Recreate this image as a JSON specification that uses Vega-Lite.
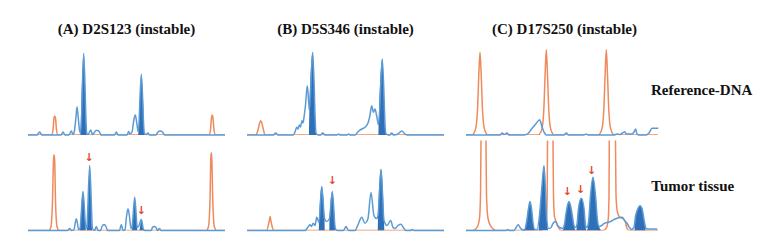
{
"$schema": "https://vega.github.io/schema/vega-lite/v6.json",
"background": "white",
"padding": {"left": 25, "top": 22, "right": 0, "bottom": 0},
"data": {"values": [
{"c":"A","r":"R","s":"b","x":0,"y":0},{"c":"A","r":"R","s":"b","x":9,"y":0},{"c":"A","r":"R","s":"b","x":11.7,"y":3},{"c":"A","r":"R","s":"b","x":14,"y":0},{"c":"A","r":"R","s":"b","x":33,"y":0},{"c":"A","r":"R","s":"b","x":35,"y":3},{"c":"A","r":"R","s":"b","x":37,"y":0},{"c":"A","r":"R","s":"b","x":41,"y":0},{"c":"A","r":"R","s":"b","x":43.3,"y":4},{"c":"A","r":"R","s":"b","x":45,"y":0.5},{"c":"A","r":"R","s":"b","x":46,"y":2},{"c":"A","r":"R","s":"b","x":48,"y":18},{"c":"A","r":"R","s":"b","x":49,"y":28},{"c":"A","r":"R","s":"b","x":50,"y":20},{"c":"A","r":"R","s":"b","x":51.5,"y":5},{"c":"A","r":"R","s":"b","x":52.7,"y":2},{"c":"A","r":"R","s":"b","x":55.7,"y":81.7},{"c":"A","r":"R","s":"b","x":58.7,"y":2},{"c":"A","r":"R","s":"b","x":60,"y":0.5},{"c":"A","r":"R","s":"b","x":62.7,"y":5},{"c":"A","r":"R","s":"b","x":64.5,"y":0.5},{"c":"A","r":"R","s":"b","x":66,"y":2},{"c":"A","r":"R","s":"b","x":68,"y":4.5},{"c":"A","r":"R","s":"b","x":70,"y":4.5},{"c":"A","r":"R","s":"b","x":72,"y":2},{"c":"A","r":"R","s":"b","x":73,"y":0},{"c":"A","r":"R","s":"b","x":86.5,"y":0},{"c":"A","r":"R","s":"b","x":88.3,"y":3},{"c":"A","r":"R","s":"b","x":90,"y":0},{"c":"A","r":"R","s":"b","x":99,"y":0},{"c":"A","r":"R","s":"b","x":100.7,"y":3.5},{"c":"A","r":"R","s":"b","x":102,"y":1},{"c":"A","r":"R","s":"b","x":104,"y":3},{"c":"A","r":"R","s":"b","x":106,"y":16},{"c":"A","r":"R","s":"b","x":107.3,"y":20},{"c":"A","r":"R","s":"b","x":108.5,"y":14},{"c":"A","r":"R","s":"b","x":110.3,"y":3},{"c":"A","r":"R","s":"b","x":113.3,"y":60.7},{"c":"A","r":"R","s":"b","x":116.3,"y":2},{"c":"A","r":"R","s":"b","x":118.5,"y":0.5},{"c":"A","r":"R","s":"b","x":120,"y":2},{"c":"A","r":"R","s":"b","x":121.5,"y":0},{"c":"A","r":"R","s":"b","x":128,"y":0},{"c":"A","r":"R","s":"b","x":130,"y":3},{"c":"A","r":"R","s":"b","x":132.3,"y":4},{"c":"A","r":"R","s":"b","x":134.5,"y":3},{"c":"A","r":"R","s":"b","x":136.5,"y":0},{"c":"A","r":"R","s":"b","x":197,"y":0},
{"c":"A","r":"R","s":"f1","x":52.5,"y":0},{"c":"A","r":"R","s":"f1","x":55.7,"y":81.7},{"c":"A","r":"R","s":"f1","x":58.9,"y":0},
{"c":"A","r":"R","s":"f2","x":110.1,"y":0},{"c":"A","r":"R","s":"f2","x":113.3,"y":60.7},{"c":"A","r":"R","s":"f2","x":116.5,"y":0},
{"c":"A","r":"R","s":"o","x":0,"y":0},{"c":"A","r":"R","s":"o","x":23.5,"y":0},{"c":"A","r":"R","s":"o","x":25,"y":5},{"c":"A","r":"R","s":"o","x":26,"y":17},{"c":"A","r":"R","s":"o","x":26.7,"y":19},{"c":"A","r":"R","s":"o","x":27.5,"y":17},{"c":"A","r":"R","s":"o","x":28.5,"y":5},{"c":"A","r":"R","s":"o","x":30,"y":0},{"c":"A","r":"R","s":"o","x":181,"y":0},{"c":"A","r":"R","s":"o","x":182.5,"y":5},{"c":"A","r":"R","s":"o","x":183.5,"y":17},{"c":"A","r":"R","s":"o","x":184.2,"y":20},{"c":"A","r":"R","s":"o","x":185,"y":17},{"c":"A","r":"R","s":"o","x":186,"y":5},{"c":"A","r":"R","s":"o","x":187.5,"y":0},{"c":"A","r":"R","s":"o","x":197,"y":0},

{"c":"A","r":"T","s":"b","x":0,"y":0},{"c":"A","r":"T","s":"b","x":39.5,"y":0},{"c":"A","r":"T","s":"b","x":41.7,"y":2},{"c":"A","r":"T","s":"b","x":43.5,"y":0},{"c":"A","r":"T","s":"b","x":46,"y":1},{"c":"A","r":"T","s":"b","x":47.3,"y":8},{"c":"A","r":"T","s":"b","x":48.3,"y":11.7},{"c":"A","r":"T","s":"b","x":49.3,"y":8},{"c":"A","r":"T","s":"b","x":50.5,"y":1},{"c":"A","r":"T","s":"b","x":52,"y":2},{"c":"A","r":"T","s":"b","x":55,"y":39},{"c":"A","r":"T","s":"b","x":58,"y":2},{"c":"A","r":"T","s":"b","x":58.8,"y":3},{"c":"A","r":"T","s":"b","x":61.7,"y":65},{"c":"A","r":"T","s":"b","x":64.5,"y":2},{"c":"A","r":"T","s":"b","x":66.5,"y":0},{"c":"A","r":"T","s":"b","x":68.3,"y":4},{"c":"A","r":"T","s":"b","x":70,"y":0},{"c":"A","r":"T","s":"b","x":72.5,"y":0},{"c":"A","r":"T","s":"b","x":74,"y":4},{"c":"A","r":"T","s":"b","x":76,"y":6},{"c":"A","r":"T","s":"b","x":78,"y":4},{"c":"A","r":"T","s":"b","x":79.5,"y":0},{"c":"A","r":"T","s":"b","x":91.5,"y":0},{"c":"A","r":"T","s":"b","x":93.3,"y":6},{"c":"A","r":"T","s":"b","x":95,"y":0},{"c":"A","r":"T","s":"b","x":97,"y":1},{"c":"A","r":"T","s":"b","x":98.5,"y":14},{"c":"A","r":"T","s":"b","x":100,"y":21.7},{"c":"A","r":"T","s":"b","x":101.5,"y":14},{"c":"A","r":"T","s":"b","x":103,"y":2},{"c":"A","r":"T","s":"b","x":104,"y":3},{"c":"A","r":"T","s":"b","x":106.7,"y":33.3},{"c":"A","r":"T","s":"b","x":109.3,"y":3},{"c":"A","r":"T","s":"b","x":111,"y":5},{"c":"A","r":"T","s":"b","x":113.3,"y":11},{"c":"A","r":"T","s":"b","x":115.5,"y":1},{"c":"A","r":"T","s":"b","x":117,"y":0},{"c":"A","r":"T","s":"b","x":123,"y":0},{"c":"A","r":"T","s":"b","x":124.5,"y":3},{"c":"A","r":"T","s":"b","x":126,"y":4},{"c":"A","r":"T","s":"b","x":128,"y":3},{"c":"A","r":"T","s":"b","x":129.5,"y":0},{"c":"A","r":"T","s":"b","x":131.5,"y":2},{"c":"A","r":"T","s":"b","x":133,"y":0},{"c":"A","r":"T","s":"b","x":197,"y":0},
{"c":"A","r":"T","s":"f1","x":52,"y":0},{"c":"A","r":"T","s":"f1","x":55,"y":39},{"c":"A","r":"T","s":"f1","x":58,"y":0},
{"c":"A","r":"T","s":"f2","x":58.8,"y":0},{"c":"A","r":"T","s":"f2","x":61.7,"y":65},{"c":"A","r":"T","s":"f2","x":64.5,"y":0},
{"c":"A","r":"T","s":"f3","x":103.8,"y":0},{"c":"A","r":"T","s":"f3","x":106.7,"y":33.3},{"c":"A","r":"T","s":"f3","x":109.5,"y":0},
{"c":"A","r":"T","s":"f4","x":111.3,"y":0},{"c":"A","r":"T","s":"f4","x":113.3,"y":11},{"c":"A","r":"T","s":"f4","x":115.3,"y":0},
{"c":"A","r":"T","s":"o","x":0,"y":0},{"c":"A","r":"T","s":"o","x":21,"y":0},{"c":"A","r":"T","s":"o","x":23,"y":4},{"c":"A","r":"T","s":"o","x":24.5,"y":30},{"c":"A","r":"T","s":"o","x":25.5,"y":70},{"c":"A","r":"T","s":"o","x":26,"y":75.7},{"c":"A","r":"T","s":"o","x":26.7,"y":70},{"c":"A","r":"T","s":"o","x":27.5,"y":30},{"c":"A","r":"T","s":"o","x":29,"y":4},{"c":"A","r":"T","s":"o","x":31,"y":0},{"c":"A","r":"T","s":"o","x":178.5,"y":0},{"c":"A","r":"T","s":"o","x":180.5,"y":4},{"c":"A","r":"T","s":"o","x":182,"y":30},{"c":"A","r":"T","s":"o","x":182.8,"y":72},{"c":"A","r":"T","s":"o","x":183.3,"y":77.7},{"c":"A","r":"T","s":"o","x":183.8,"y":72},{"c":"A","r":"T","s":"o","x":184.8,"y":30},{"c":"A","r":"T","s":"o","x":186.3,"y":4},{"c":"A","r":"T","s":"o","x":188.5,"y":0},{"c":"A","r":"T","s":"o","x":197,"y":0},
{"c":"A","r":"T","s":"a","x":61,"y":72.7},{"c":"A","r":"T","s":"a","x":113.3,"y":19.3},

{"c":"B","r":"R","s":"b","x":0,"y":0},{"c":"B","r":"R","s":"b","x":26.5,"y":0},{"c":"B","r":"R","s":"b","x":28.7,"y":2},{"c":"B","r":"R","s":"b","x":31,"y":0},{"c":"B","r":"R","s":"b","x":46.3,"y":0},{"c":"B","r":"R","s":"b","x":48,"y":3},{"c":"B","r":"R","s":"b","x":49.7,"y":7.7},{"c":"B","r":"R","s":"b","x":51,"y":6},{"c":"B","r":"R","s":"b","x":52.3,"y":10},{"c":"B","r":"R","s":"b","x":53.5,"y":8},{"c":"B","r":"R","s":"b","x":55,"y":14.3},{"c":"B","r":"R","s":"b","x":56,"y":12},{"c":"B","r":"R","s":"b","x":57,"y":17.7},{"c":"B","r":"R","s":"b","x":58.5,"y":30},{"c":"B","r":"R","s":"b","x":60.3,"y":49.3},{"c":"B","r":"R","s":"b","x":61.7,"y":32.7},{"c":"B","r":"R","s":"b","x":62.4,"y":25},{"c":"B","r":"R","s":"b","x":65.7,"y":82.7},{"c":"B","r":"R","s":"b","x":69,"y":2},{"c":"B","r":"R","s":"b","x":71,"y":0},{"c":"B","r":"R","s":"b","x":73.5,"y":0},{"c":"B","r":"R","s":"b","x":75.7,"y":2},{"c":"B","r":"R","s":"b","x":78,"y":0},{"c":"B","r":"R","s":"b","x":90,"y":0},{"c":"B","r":"R","s":"b","x":91.7,"y":1},{"c":"B","r":"R","s":"b","x":93,"y":0},{"c":"B","r":"R","s":"b","x":100,"y":0},{"c":"B","r":"R","s":"b","x":101.7,"y":1},{"c":"B","r":"R","s":"b","x":103,"y":0},{"c":"B","r":"R","s":"b","x":108,"y":0},{"c":"B","r":"R","s":"b","x":111,"y":3.3},{"c":"B","r":"R","s":"b","x":114.7,"y":6},{"c":"B","r":"R","s":"b","x":118,"y":7.7},{"c":"B","r":"R","s":"b","x":121.3,"y":12.7},{"c":"B","r":"R","s":"b","x":123,"y":20},{"c":"B","r":"R","s":"b","x":124.7,"y":29.3},{"c":"B","r":"R","s":"b","x":126.3,"y":22.7},{"c":"B","r":"R","s":"b","x":128,"y":26},{"c":"B","r":"R","s":"b","x":129.7,"y":19},{"c":"B","r":"R","s":"b","x":131.6,"y":10},{"c":"B","r":"R","s":"b","x":135.3,"y":76},{"c":"B","r":"R","s":"b","x":138.7,"y":2},{"c":"B","r":"R","s":"b","x":141,"y":0},{"c":"B","r":"R","s":"b","x":142.7,"y":0},{"c":"B","r":"R","s":"b","x":144.7,"y":2},{"c":"B","r":"R","s":"b","x":146.5,"y":0},{"c":"B","r":"R","s":"b","x":151,"y":1},{"c":"B","r":"R","s":"b","x":154.7,"y":4},{"c":"B","r":"R","s":"b","x":158,"y":1},{"c":"B","r":"R","s":"b","x":160,"y":0},{"c":"B","r":"R","s":"b","x":197,"y":0},
{"c":"B","r":"R","s":"f1","x":62,"y":0},{"c":"B","r":"R","s":"f1","x":62.4,"y":25},{"c":"B","r":"R","s":"f1","x":65.7,"y":82.7},{"c":"B","r":"R","s":"f1","x":69,"y":2},{"c":"B","r":"R","s":"f1","x":69.3,"y":0},
{"c":"B","r":"R","s":"f2","x":131.4,"y":0},{"c":"B","r":"R","s":"f2","x":131.6,"y":10},{"c":"B","r":"R","s":"f2","x":135.3,"y":76},{"c":"B","r":"R","s":"f2","x":138.7,"y":2},{"c":"B","r":"R","s":"f2","x":139,"y":0},
{"c":"B","r":"R","s":"o","x":0,"y":0},{"c":"B","r":"R","s":"o","x":9,"y":0},{"c":"B","r":"R","s":"o","x":11,"y":5},{"c":"B","r":"R","s":"o","x":13,"y":13},{"c":"B","r":"R","s":"o","x":13.7,"y":14.3},{"c":"B","r":"R","s":"o","x":14.5,"y":13},{"c":"B","r":"R","s":"o","x":16.5,"y":5},{"c":"B","r":"R","s":"o","x":18,"y":0},{"c":"B","r":"R","s":"o","x":197,"y":0},

{"c":"B","r":"T","s":"b","x":0,"y":0},{"c":"B","r":"T","s":"b","x":58,"y":0},{"c":"B","r":"T","s":"b","x":60,"y":2},{"c":"B","r":"T","s":"b","x":63,"y":5.7},{"c":"B","r":"T","s":"b","x":64.5,"y":4},{"c":"B","r":"T","s":"b","x":66.3,"y":7.3},{"c":"B","r":"T","s":"b","x":68,"y":5},{"c":"B","r":"T","s":"b","x":69.7,"y":13.3},{"c":"B","r":"T","s":"b","x":72,"y":8},{"c":"B","r":"T","s":"b","x":74.7,"y":44},{"c":"B","r":"T","s":"b","x":77.5,"y":12},{"c":"B","r":"T","s":"b","x":79.5,"y":9},{"c":"B","r":"T","s":"b","x":82.5,"y":12},{"c":"B","r":"T","s":"b","x":85.3,"y":39},{"c":"B","r":"T","s":"b","x":88.3,"y":2},{"c":"B","r":"T","s":"b","x":90.5,"y":0},{"c":"B","r":"T","s":"b","x":96.5,"y":0},{"c":"B","r":"T","s":"b","x":99,"y":4},{"c":"B","r":"T","s":"b","x":101.5,"y":0},{"c":"B","r":"T","s":"b","x":108,"y":0},{"c":"B","r":"T","s":"b","x":111,"y":5.7},{"c":"B","r":"T","s":"b","x":114.7,"y":13.3},{"c":"B","r":"T","s":"b","x":118,"y":7.3},{"c":"B","r":"T","s":"b","x":119.7,"y":9},{"c":"B","r":"T","s":"b","x":121,"y":12},{"c":"B","r":"T","s":"b","x":124,"y":38},{"c":"B","r":"T","s":"b","x":127,"y":14.7},{"c":"B","r":"T","s":"b","x":129.7,"y":12},{"c":"B","r":"T","s":"b","x":131,"y":15},{"c":"B","r":"T","s":"b","x":134,"y":61.3},{"c":"B","r":"T","s":"b","x":137,"y":10},{"c":"B","r":"T","s":"b","x":140,"y":5},{"c":"B","r":"T","s":"b","x":143.7,"y":10},{"c":"B","r":"T","s":"b","x":146,"y":3},{"c":"B","r":"T","s":"b","x":148,"y":2},{"c":"B","r":"T","s":"b","x":151,"y":5},{"c":"B","r":"T","s":"b","x":154,"y":6.3},{"c":"B","r":"T","s":"b","x":157,"y":2},{"c":"B","r":"T","s":"b","x":159,"y":0},{"c":"B","r":"T","s":"b","x":163,"y":0},{"c":"B","r":"T","s":"b","x":165.5,"y":1},{"c":"B","r":"T","s":"b","x":167,"y":0},{"c":"B","r":"T","s":"b","x":197,"y":0},
{"c":"B","r":"T","s":"f1","x":71.8,"y":0},{"c":"B","r":"T","s":"f1","x":72,"y":8},{"c":"B","r":"T","s":"f1","x":74.7,"y":44},{"c":"B","r":"T","s":"f1","x":77.5,"y":12},{"c":"B","r":"T","s":"f1","x":77.8,"y":0},
{"c":"B","r":"T","s":"f2","x":82.3,"y":0},{"c":"B","r":"T","s":"f2","x":82.5,"y":12},{"c":"B","r":"T","s":"f2","x":85.3,"y":39},{"c":"B","r":"T","s":"f2","x":88.3,"y":2},{"c":"B","r":"T","s":"f2","x":88.5,"y":0},
{"c":"B","r":"T","s":"f3","x":130.8,"y":0},{"c":"B","r":"T","s":"f3","x":131,"y":15},{"c":"B","r":"T","s":"f3","x":134,"y":61.3},{"c":"B","r":"T","s":"f3","x":137,"y":10},{"c":"B","r":"T","s":"f3","x":137.3,"y":0},
{"c":"B","r":"T","s":"o","x":0,"y":0},{"c":"B","r":"T","s":"o","x":19.5,"y":0},{"c":"B","r":"T","s":"o","x":21.5,"y":6},{"c":"B","r":"T","s":"o","x":22.7,"y":12},{"c":"B","r":"T","s":"o","x":23.1,"y":14},{"c":"B","r":"T","s":"o","x":23.5,"y":12},{"c":"B","r":"T","s":"o","x":24.7,"y":6},{"c":"B","r":"T","s":"o","x":26.5,"y":0},{"c":"B","r":"T","s":"o","x":197,"y":0},
{"c":"B","r":"T","s":"a","x":85.3,"y":50},

{"c":"C","r":"R","s":"o","x":0,"y":0},{"c":"C","r":"R","s":"o","x":6,"y":0},{"c":"C","r":"R","s":"o","x":8,"y":2},{"c":"C","r":"R","s":"o","x":10,"y":8},{"c":"C","r":"R","s":"o","x":11.5,"y":25},{"c":"C","r":"R","s":"o","x":12.8,"y":60},{"c":"C","r":"R","s":"o","x":14,"y":82.7},{"c":"C","r":"R","s":"o","x":15.2,"y":60},{"c":"C","r":"R","s":"o","x":16.5,"y":25},{"c":"C","r":"R","s":"o","x":18,"y":8},{"c":"C","r":"R","s":"o","x":20,"y":2},{"c":"C","r":"R","s":"o","x":22,"y":0},{"c":"C","r":"R","s":"o","x":72,"y":0},{"c":"C","r":"R","s":"o","x":74.3,"y":2},{"c":"C","r":"R","s":"o","x":76.3,"y":8},{"c":"C","r":"R","s":"o","x":77.8,"y":25},{"c":"C","r":"R","s":"o","x":79.1,"y":60},{"c":"C","r":"R","s":"o","x":80.3,"y":85.3},{"c":"C","r":"R","s":"o","x":81.5,"y":60},{"c":"C","r":"R","s":"o","x":82.8,"y":25},{"c":"C","r":"R","s":"o","x":84.3,"y":8},{"c":"C","r":"R","s":"o","x":86.3,"y":2},{"c":"C","r":"R","s":"o","x":88.5,"y":0},{"c":"C","r":"R","s":"o","x":132,"y":0},{"c":"C","r":"R","s":"o","x":134.3,"y":2},{"c":"C","r":"R","s":"o","x":136.3,"y":8},{"c":"C","r":"R","s":"o","x":137.8,"y":25},{"c":"C","r":"R","s":"o","x":139.1,"y":60},{"c":"C","r":"R","s":"o","x":140.3,"y":85.3},{"c":"C","r":"R","s":"o","x":141.5,"y":60},{"c":"C","r":"R","s":"o","x":142.8,"y":25},{"c":"C","r":"R","s":"o","x":144.3,"y":8},{"c":"C","r":"R","s":"o","x":146.3,"y":2},{"c":"C","r":"R","s":"o","x":148.5,"y":0},{"c":"C","r":"R","s":"o","x":192,"y":0},
{"c":"C","r":"R","s":"b","x":0,"y":0},{"c":"C","r":"R","s":"b","x":34,"y":0},{"c":"C","r":"R","s":"b","x":36.3,"y":2},{"c":"C","r":"R","s":"b","x":38,"y":0.5},{"c":"C","r":"R","s":"b","x":41,"y":2},{"c":"C","r":"R","s":"b","x":43,"y":0},{"c":"C","r":"R","s":"b","x":58,"y":0},{"c":"C","r":"R","s":"b","x":62,"y":1.5},{"c":"C","r":"R","s":"b","x":65,"y":5.3},{"c":"C","r":"R","s":"b","x":69.7,"y":11},{"c":"C","r":"R","s":"b","x":73.7,"y":15.3},{"c":"C","r":"R","s":"b","x":75.5,"y":10},{"c":"C","r":"R","s":"b","x":76.5,"y":6.7},{"c":"C","r":"R","s":"b","x":78.5,"y":2},{"c":"C","r":"R","s":"b","x":80.5,"y":0},{"c":"C","r":"R","s":"b","x":98,"y":0},{"c":"C","r":"R","s":"b","x":100.3,"y":2},{"c":"C","r":"R","s":"b","x":102.5,"y":0},{"c":"C","r":"R","s":"b","x":118,"y":0},{"c":"C","r":"R","s":"b","x":120,"y":1},{"c":"C","r":"R","s":"b","x":122,"y":0},{"c":"C","r":"R","s":"b","x":148,"y":0},{"c":"C","r":"R","s":"b","x":151,"y":1},{"c":"C","r":"R","s":"b","x":154,"y":0.5},{"c":"C","r":"R","s":"b","x":156.5,"y":2},{"c":"C","r":"R","s":"b","x":158.7,"y":3.3},{"c":"C","r":"R","s":"b","x":160.5,"y":1},{"c":"C","r":"R","s":"b","x":163,"y":1},{"c":"C","r":"R","s":"b","x":166,"y":1},{"c":"C","r":"R","s":"b","x":168,"y":3},{"c":"C","r":"R","s":"b","x":169.7,"y":6},{"c":"C","r":"R","s":"b","x":171,"y":1},{"c":"C","r":"R","s":"b","x":173,"y":0},{"c":"C","r":"R","s":"b","x":180,"y":0},{"c":"C","r":"R","s":"b","x":183,"y":2},{"c":"C","r":"R","s":"b","x":186,"y":6.7},{"c":"C","r":"R","s":"b","x":188,"y":6.7},{"c":"C","r":"R","s":"b","x":192.3,"y":6.7},

{"c":"C","r":"T","s":"o","x":0,"y":0},{"c":"C","r":"T","s":"o","x":6,"y":0},{"c":"C","r":"T","s":"o","x":9,"y":1},{"c":"C","r":"T","s":"o","x":11.5,"y":4},{"c":"C","r":"T","s":"o","x":13.5,"y":12},{"c":"C","r":"T","s":"o","x":14.5,"y":35},{"c":"C","r":"T","s":"o","x":15,"y":90},{"c":"C","r":"T","s":"o","x":15.5,"y":150},{"c":"C","r":"T","s":"o","x":17.3,"y":200},{"c":"C","r":"T","s":"o","x":19.5,"y":150},{"c":"C","r":"T","s":"o","x":20,"y":90},{"c":"C","r":"T","s":"o","x":20.5,"y":35},{"c":"C","r":"T","s":"o","x":22,"y":12},{"c":"C","r":"T","s":"o","x":25,"y":4},{"c":"C","r":"T","s":"o","x":28,"y":1},{"c":"C","r":"T","s":"o","x":31,"y":0},{"c":"C","r":"T","s":"o","x":74,"y":0},{"c":"C","r":"T","s":"o","x":77,"y":1},{"c":"C","r":"T","s":"o","x":79,"y":4},{"c":"C","r":"T","s":"o","x":80.5,"y":12},{"c":"C","r":"T","s":"o","x":81.2,"y":35},{"c":"C","r":"T","s":"o","x":81.5,"y":90},{"c":"C","r":"T","s":"o","x":82,"y":150},{"c":"C","r":"T","s":"o","x":84,"y":200},{"c":"C","r":"T","s":"o","x":86.5,"y":150},{"c":"C","r":"T","s":"o","x":87,"y":90},{"c":"C","r":"T","s":"o","x":87.5,"y":35},{"c":"C","r":"T","s":"o","x":88.5,"y":14},{"c":"C","r":"T","s":"o","x":90.5,"y":8},{"c":"C","r":"T","s":"o","x":92.5,"y":3},{"c":"C","r":"T","s":"o","x":95,"y":0},{"c":"C","r":"T","s":"o","x":136,"y":0},{"c":"C","r":"T","s":"o","x":139,"y":1},{"c":"C","r":"T","s":"o","x":141,"y":4},{"c":"C","r":"T","s":"o","x":142.3,"y":12},{"c":"C","r":"T","s":"o","x":143,"y":35},{"c":"C","r":"T","s":"o","x":143.3,"y":90},{"c":"C","r":"T","s":"o","x":143.8,"y":150},{"c":"C","r":"T","s":"o","x":146.3,"y":200},{"c":"C","r":"T","s":"o","x":149,"y":150},{"c":"C","r":"T","s":"o","x":149.5,"y":90},{"c":"C","r":"T","s":"o","x":150,"y":35},{"c":"C","r":"T","s":"o","x":151.5,"y":18},{"c":"C","r":"T","s":"o","x":154,"y":13},{"c":"C","r":"T","s":"o","x":157,"y":12},{"c":"C","r":"T","s":"o","x":159.5,"y":8},{"c":"C","r":"T","s":"o","x":161,"y":2},{"c":"C","r":"T","s":"o","x":163,"y":0},{"c":"C","r":"T","s":"o","x":192,"y":0},
{"c":"C","r":"T","s":"b","x":0,"y":0},{"c":"C","r":"T","s":"b","x":40,"y":0},{"c":"C","r":"T","s":"b","x":41.5,"y":1},{"c":"C","r":"T","s":"b","x":43,"y":0},{"c":"C","r":"T","s":"b","x":48,"y":0},{"c":"C","r":"T","s":"b","x":50,"y":3},{"c":"C","r":"T","s":"b","x":52.3,"y":5.7},{"c":"C","r":"T","s":"b","x":54,"y":3},{"c":"C","r":"T","s":"b","x":56,"y":1},{"c":"C","r":"T","s":"b","x":58.5,"y":0.5},{"c":"C","r":"T","s":"b","x":60.5,"y":8},{"c":"C","r":"T","s":"b","x":62.5,"y":22},{"c":"C","r":"T","s":"b","x":64,"y":29},{"c":"C","r":"T","s":"b","x":65.5,"y":22},{"c":"C","r":"T","s":"b","x":67,"y":8},{"c":"C","r":"T","s":"b","x":69,"y":1},{"c":"C","r":"T","s":"b","x":71,"y":1},{"c":"C","r":"T","s":"b","x":73.5,"y":15},{"c":"C","r":"T","s":"b","x":76,"y":45},{"c":"C","r":"T","s":"b","x":78,"y":64.7},{"c":"C","r":"T","s":"b","x":79.5,"y":40},{"c":"C","r":"T","s":"b","x":80.5,"y":15},{"c":"C","r":"T","s":"b","x":82.5,"y":2},{"c":"C","r":"T","s":"b","x":85,"y":3},{"c":"C","r":"T","s":"b","x":87,"y":7},{"c":"C","r":"T","s":"b","x":89.7,"y":9},{"c":"C","r":"T","s":"b","x":91.5,"y":5},{"c":"C","r":"T","s":"b","x":94,"y":3},{"c":"C","r":"T","s":"b","x":96.5,"y":2},{"c":"C","r":"T","s":"b","x":98.5,"y":6},{"c":"C","r":"T","s":"b","x":100,"y":17},{"c":"C","r":"T","s":"b","x":101.5,"y":25},{"c":"C","r":"T","s":"b","x":103,"y":29},{"c":"C","r":"T","s":"b","x":104.5,"y":25},{"c":"C","r":"T","s":"b","x":106,"y":17},{"c":"C","r":"T","s":"b","x":108,"y":5},{"c":"C","r":"T","s":"b","x":109.7,"y":3},{"c":"C","r":"T","s":"b","x":111,"y":6},{"c":"C","r":"T","s":"b","x":112.5,"y":22},{"c":"C","r":"T","s":"b","x":115.3,"y":32.3},{"c":"C","r":"T","s":"b","x":118,"y":22},{"c":"C","r":"T","s":"b","x":119.5,"y":5},{"c":"C","r":"T","s":"b","x":120.7,"y":3},{"c":"C","r":"T","s":"b","x":122.5,"y":8},{"c":"C","r":"T","s":"b","x":124.5,"y":35},{"c":"C","r":"T","s":"b","x":127,"y":53.3},{"c":"C","r":"T","s":"b","x":129.5,"y":35},{"c":"C","r":"T","s":"b","x":131.5,"y":10},{"c":"C","r":"T","s":"b","x":133,"y":4},{"c":"C","r":"T","s":"b","x":135.7,"y":5},{"c":"C","r":"T","s":"b","x":138,"y":7},{"c":"C","r":"T","s":"b","x":141,"y":8},{"c":"C","r":"T","s":"b","x":144.7,"y":9},{"c":"C","r":"T","s":"b","x":148,"y":11},{"c":"C","r":"T","s":"b","x":151.3,"y":12.3},{"c":"C","r":"T","s":"b","x":153.5,"y":13},{"c":"C","r":"T","s":"b","x":156.3,"y":13.3},{"c":"C","r":"T","s":"b","x":158.5,"y":10},{"c":"C","r":"T","s":"b","x":161,"y":7.3},{"c":"C","r":"T","s":"b","x":163.5,"y":3},{"c":"C","r":"T","s":"b","x":165.5,"y":1},{"c":"C","r":"T","s":"b","x":168,"y":3},{"c":"C","r":"T","s":"b","x":169.5,"y":14},{"c":"C","r":"T","s":"b","x":172,"y":22},{"c":"C","r":"T","s":"b","x":174,"y":24.7},{"c":"C","r":"T","s":"b","x":176,"y":22},{"c":"C","r":"T","s":"b","x":178.5,"y":8},{"c":"C","r":"T","s":"b","x":180,"y":2},{"c":"C","r":"T","s":"b","x":182,"y":1.5},{"c":"C","r":"T","s":"b","x":185,"y":1.5},{"c":"C","r":"T","s":"b","x":188,"y":1.5},{"c":"C","r":"T","s":"b","x":191.3,"y":1.3},
{"c":"C","r":"T","s":"f1","x":58.5,"y":0},{"c":"C","r":"T","s":"f1","x":60.5,"y":8},{"c":"C","r":"T","s":"f1","x":62.5,"y":22},{"c":"C","r":"T","s":"f1","x":64,"y":29},{"c":"C","r":"T","s":"f1","x":65.5,"y":22},{"c":"C","r":"T","s":"f1","x":67,"y":8},{"c":"C","r":"T","s":"f1","x":69,"y":0},
{"c":"C","r":"T","s":"f2","x":72.5,"y":0},{"c":"C","r":"T","s":"f2","x":73.5,"y":15},{"c":"C","r":"T","s":"f2","x":76,"y":45},{"c":"C","r":"T","s":"f2","x":78,"y":64.7},{"c":"C","r":"T","s":"f2","x":79.5,"y":40},{"c":"C","r":"T","s":"f2","x":80.5,"y":15},{"c":"C","r":"T","s":"f2","x":82.5,"y":0},
{"c":"C","r":"T","s":"f3","x":96.5,"y":0},{"c":"C","r":"T","s":"f3","x":98.5,"y":6},{"c":"C","r":"T","s":"f3","x":100,"y":17},{"c":"C","r":"T","s":"f3","x":101.5,"y":25},{"c":"C","r":"T","s":"f3","x":103,"y":29},{"c":"C","r":"T","s":"f3","x":104.5,"y":25},{"c":"C","r":"T","s":"f3","x":106,"y":17},{"c":"C","r":"T","s":"f3","x":108,"y":5},{"c":"C","r":"T","s":"f3","x":109.7,"y":0},
{"c":"C","r":"T","s":"f4","x":110.3,"y":0},{"c":"C","r":"T","s":"f4","x":111,"y":6},{"c":"C","r":"T","s":"f4","x":112.5,"y":22},{"c":"C","r":"T","s":"f4","x":115.3,"y":32.3},{"c":"C","r":"T","s":"f4","x":118,"y":22},{"c":"C","r":"T","s":"f4","x":119.5,"y":5},{"c":"C","r":"T","s":"f4","x":120.2,"y":0},
{"c":"C","r":"T","s":"f5","x":120.7,"y":0},{"c":"C","r":"T","s":"f5","x":122.5,"y":8},{"c":"C","r":"T","s":"f5","x":124.5,"y":35},{"c":"C","r":"T","s":"f5","x":127,"y":53.3},{"c":"C","r":"T","s":"f5","x":129.5,"y":35},{"c":"C","r":"T","s":"f5","x":131.5,"y":10},{"c":"C","r":"T","s":"f5","x":133,"y":4},{"c":"C","r":"T","s":"f5","x":135.7,"y":0},
{"c":"C","r":"T","s":"f6","x":168.5,"y":0},{"c":"C","r":"T","s":"f6","x":169.5,"y":14},{"c":"C","r":"T","s":"f6","x":172,"y":22},{"c":"C","r":"T","s":"f6","x":174,"y":24.7},{"c":"C","r":"T","s":"f6","x":176,"y":22},{"c":"C","r":"T","s":"f6","x":178.5,"y":8},{"c":"C","r":"T","s":"f6","x":179.5,"y":0},
{"c":"C","r":"T","s":"a","x":101.3,"y":39},{"c":"C","r":"T","s":"a","x":114.7,"y":40.7},{"c":"C","r":"T","s":"a","x":125.7,"y":60}
]},
"facet": {
  "column": {"field": "c", "type": "nominal", "title": null,
    "header": {"labelExpr": "datum.value == 'A' ? '(A) D2S123 (instable)' : datum.value == 'B' ? '(B) D5S346 (instable)' : '(C) D17S250 (instable)'",
      "labelFontSize": 15, "labelPadding": 8}},
  "row": {"field": "r", "type": "nominal", "title": null,
    "header": {"labelOrient": "right", "labelAngle": 0,
      "labelExpr": "datum.value == 'R' ? ['Reference-DNA', ''] : ['Tumor tissue', '']",
      "labelLineHeight": 15, "labelFontSize": 15, "labelPadding": -12}}
},
"spacing": {"row": 2.5, "column": 16},
"spec": {
  "width": 197,
  "height": 90,
  "encoding": {
    "x": {"field": "x", "type": "quantitative", "scale": {"domain": [0, 197], "nice": false, "zero": false}, "axis": null},
    "y": {"field": "y", "type": "quantitative", "scale": {"domain": [0, 90], "nice": false}, "axis": null}
  },
  "layer": [
    {"transform": [{"filter": "datum.s == 'o'"}],
     "mark": {"type": "line", "clip": true, "color": "#ef8a5c", "strokeWidth": 1.5, "interpolate": "monotone"}},
    {"transform": [{"filter": "indexof(datum.s, 'f') == 0"}],
     "mark": {"type": "area", "clip": true, "color": "#2f6fb8", "opacity": 1, "interpolate": "monotone"},
     "encoding": {"detail": {"field": "s", "type": "nominal"}}},
    {"transform": [{"filter": "datum.s == 'b'"}],
     "mark": {"type": "line", "color": "#5b9bd5", "strokeWidth": 1.5, "interpolate": "monotone"}},
    {"transform": [{"filter": "datum.s == 'a'"}],
     "mark": {"type": "text", "text": "↓", "color": "#e5462e", "fontSize": 11, "fontWeight": "bold", "baseline": "middle", "font": "DejaVu Sans"}}
  ]
},
"config": {
  "view": {"stroke": null},
  "font": "Liberation Serif",
  "header": {"labelFont": "Liberation Serif", "labelFontWeight": "bold", "labelColor": "#111111"}
}
}
